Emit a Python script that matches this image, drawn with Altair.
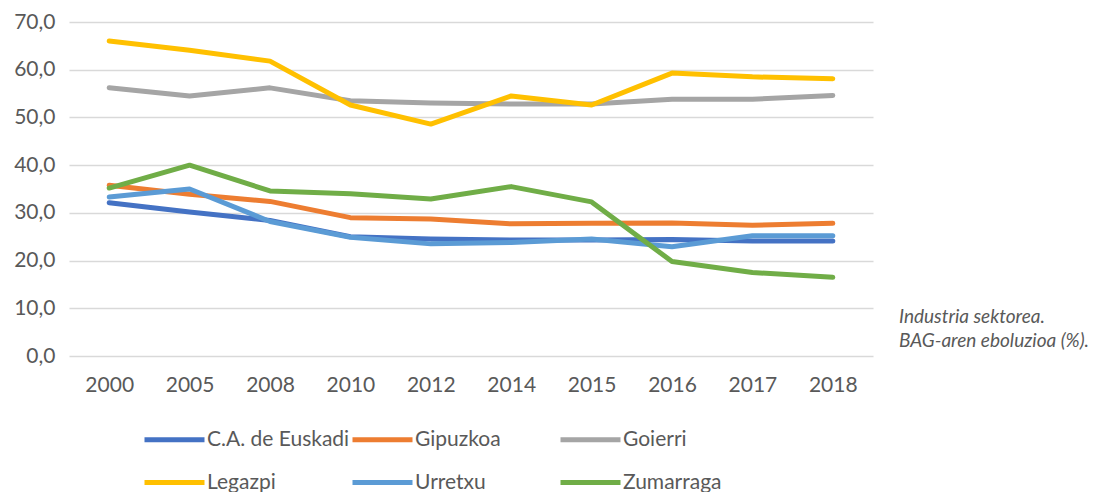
import altair as alt
import pandas as pd

years = ["2000", "2005", "2008", "2010", "2012", "2014", "2015", "2016", "2017", "2018"]
series_names = ["C.A. de Euskadi", "Gipuzkoa", "Goierri", "Legazpi", "Urretxu", "Zumarraga"]
euskadi = [32.1, 30.2, 28.4, 25.0, 24.5, 24.3, 24.3, 24.4, 24.1, 24.1]
gipuzkoa = [35.8, 33.9, 32.4, 29.0, 28.7, 27.7, 27.8, 27.9, 27.4, 27.8]
goierri = [56.2, 54.5, 56.2, 53.5, 53.0, 52.8, 52.8, 53.8, 53.8, 54.6]
legazpi = [66.0, 64.1, 61.8, 52.6, 48.6, 54.5, 52.6, 59.3, 58.5, 58.1]
urretxu = [33.3, 35.0, 28.2, 24.9, 23.5, 23.8, 24.5, 22.9, 25.2, 25.2]
zumarraga = [35.2, 40.0, 34.6, 34.0, 32.9, 35.5, 32.3, 19.8, 17.5, 16.5]
colors = ["#4472C4", "#ED7D31", "#A5A5A5", "#FFC000", "#5B9BD5", "#70AD47"]
note_lines = ["Industria sektorea.", "BAG-aren eboluzioa (%)."]

values = [euskadi, gipuzkoa, goierri, legazpi, urretxu, zumarraga]
rows = []
for name, vals in zip(series_names, values):
    for y, v in zip(years, vals):
        rows.append({"year": y, "value": v, "series": name})
df = pd.DataFrame(rows)

FONT = "Lato"
GREY = "#595959"

lines = alt.Chart(df).mark_line(strokeWidth=5, strokeCap="round", strokeJoin="round").encode(
    x=alt.X("year:N", sort=years, title=None,
            scale=alt.Scale(type="point", padding=0.5),
            axis=alt.Axis(labelAngle=0, labelFontSize=21, labelColor=GREY, labelFont=FONT,
                          labelPadding=18, domain=False, ticks=False, grid=False)),
    y=alt.Y("value:Q", title=None,
            scale=alt.Scale(domain=[0, 70], nice=False),
            axis=alt.Axis(values=[0, 10, 20, 30, 40, 50, 60, 70],
                          labelExpr="replace(format(datum.value, '.1f'), '.', ',')",
                          labelFontSize=21, labelColor=GREY, labelFont=FONT, labelPadding=14,
                          domain=False, ticks=False, gridColor="#D9D9D9", gridWidth=1.5)),
    color=alt.Color("series:N", sort=series_names, title=None,
                    scale=alt.Scale(domain=series_names, range=colors),
                    legend=alt.Legend(orient="none", legendX=73, legendY=385, columns=3,
                                      direction="horizontal",
                                      symbolType="stroke", symbolSize=3600, symbolStrokeWidth=5,
                                      labelFontSize=21, labelColor=GREY, labelFont=FONT,
                                      labelOffset=0, columnPadding=-12, rowPadding=-16,
                                      gridAlign="all", labelLimit=300)),
)

note_df = pd.DataFrame({"line": note_lines, "i": [0, 1]})
note_layers = []
for i, yv in enumerate([295, 319]):
    note_layers.append(
        alt.Chart(note_df).transform_filter(alt.datum.i == i).mark_text(
            align="left", baseline="middle", fontStyle="italic",
            fontSize=19, font=FONT, color=GREY).encode(
            x=alt.value(830),
            y=alt.value(yv),
            text="line:N",
        )
    )

chart = alt.layer(lines, *note_layers).properties(
    width=804, height=334,
    padding={"top": 3, "left": 5, "right": 5, "bottom": 5},
).configure(font=FONT).configure_view(stroke=None)

chart.save("out.html", embed_options={"renderer": "svg", "actions": False})
